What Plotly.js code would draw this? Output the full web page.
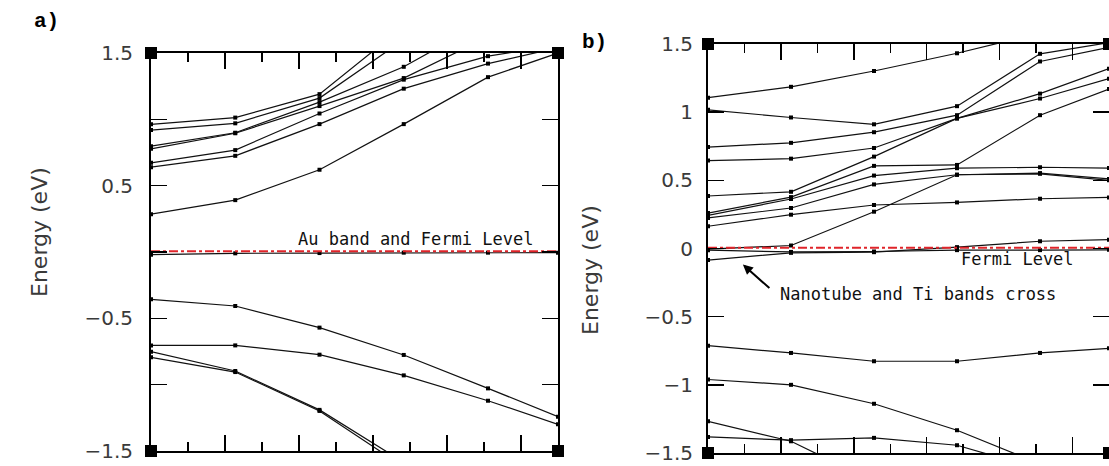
<!DOCTYPE html>
<html>
<head>
<meta charset="utf-8">
<script src="https://cdn.plot.ly/plotly-3.0.1.min.js"></script>
<style>
html,body{margin:0;padding:0;background:#fff;}
#chart{width:1109px;height:466px;}
</style>
</head>
<body>
<div id="chart"></div>
<script>
// k-point positions along the path (fraction of the zone)
const kPoints = [0, 0.207, 0.414, 0.621, 0.828, 1.0];

// Panel a) bands (eV)
const aBand1 = [0.285, 0.391, 0.62, 0.964, 1.318, 1.50];
const aBand2 = [0.639, 0.725, 0.964, 1.231, 1.42, 1.54];
const aBand3 = [0.672, 0.768, 1.044, 1.299, 1.476, 1.56];
const aBand4 = [0.778, 0.895, 1.10, 1.311, 1.62];
const aBand5 = [0.798, 0.899, 1.13, 1.396, 1.75];
const aBand6 = [0.919, 0.970, 1.16, 1.60];
const aBand7 = [0.962, 1.013, 1.19, 1.70];
const aAuBand = [-0.02, -0.01, -0.008, -0.005, -0.005, -0.005];
const aVal1 = [-0.357, -0.407, -0.570, -0.776, -1.028, -1.241];
const aVal2 = [-0.704, -0.704, -0.774, -0.930, -1.121, -1.299];
const aVal3 = [-0.751, -0.897, -1.19, -1.585];
const aVal4 = [-0.794, -0.905, -1.198, -1.62];

// Panel b) bands (eV)
const bBand1 = [1.106, 1.186, 1.302, 1.432, 1.58];
const bBand2 = [1.017, 0.961, 0.911, 1.044, 1.428, 1.51];
const bBand3 = [0.744, 0.775, 0.853, 0.978, 1.372, 1.475];
const bBand4 = [0.645, 0.659, 0.737, 0.954, 1.136, 1.319];
const bBand5 = [0.385, 0.416, 0.674, 0.954, 1.10, 1.246];
const bBand6 = [0.26, 0.377, 0.606, 0.613, 0.978, 1.17];
const bBand7 = [0.243, 0.363, 0.535, 0.589, 0.596, 0.59];
const bBand8 = [0.224, 0.297, 0.470, 0.541, 0.553, 0.51];
const bBand9 = [0.163, 0.248, 0.319, 0.338, 0.365, 0.375];
const bBand10 = [-0.005, 0.022, 0.270, 0.541, 0.548, 0.50];
const bTiBand = [-0.012, -0.025, -0.022, -0.012, -0.012, -0.01];
const bTubeBand = [-0.085, -0.032, -0.027, 0.01, 0.053, 0.065];
const bVal1 = [-0.713, -0.766, -0.827, -0.827, -0.766, -0.732];
const bVal2 = [-0.961, -1.0, -1.139, -1.333, -1.58];
const bVal3 = [-1.268, -1.414, -1.71];
const bVal4 = [-1.382, -1.406, -1.389, -1.443, -1.62];

// Fermi level and frame corners
const fermiX = [0, 1];
const fermiY = [0.005, 0.005];
const cornerX = [0, 1, 0, 1];
const cornerY = [1.5, 1.5, -1.5, -1.5];

// y tick labels
const aTickVals = [-1.5, -1, -0.5, 0, 0.5, 1, 1.5];
const aTickText = ['\u22121.5', '', '\u22120.5', '', '0.5', '', '1.5'];
const bTickVals = [-1.5, -1, -0.5, 0, 0.5, 1, 1.5];
const bTickText = ['\u22121.5', '\u22121', '\u22120.5', '0', '0.5', '1', '1.5'];

const aBands = [aBand1, aBand2, aBand3, aBand4, aBand5, aBand6, aBand7, aAuBand, aVal1, aVal2, aVal3, aVal4];
const bBands = [bBand1, bBand2, bBand3, bBand4, bBand5, bBand6, bBand7, bBand8, bBand9, bBand10, bTiBand, bTubeBand, bVal1, bVal2, bVal3, bVal4];

const traces = [];
function bandTrace(vals, xa, ya) {
  return {
    x: kPoints.slice(0, vals.length), y: vals, xaxis: xa, yaxis: ya,
    type: 'scatter', mode: 'lines+markers',
    line: {color: '#111', width: 1.2},
    marker: {symbol: 'square', size: 4, color: '#000'},
    hoverinfo: 'skip', showlegend: false
  };
}
aBands.forEach(v => traces.push(bandTrace(v, 'x', 'y')));
bBands.forEach(v => traces.push(bandTrace(v, 'x2', 'y2')));

[['x', 'y'], ['x2', 'y2']].forEach(([xa, ya]) => {
  traces.push({x: fermiX, y: fermiY, xaxis: xa, yaxis: ya, type: 'scatter', mode: 'lines',
    line: {color: '#e0242a', width: 2, dash: 'dashdot'}, hoverinfo: 'skip', showlegend: false});
  traces.push({x: cornerX, y: cornerY, xaxis: xa, yaxis: ya, type: 'scatter', mode: 'markers',
    cliponaxis: false, marker: {symbol: 'square', size: 12, color: '#000'},
    hoverinfo: 'skip', showlegend: false});
});

const W = 1109, H = 466;
const majorK = [2, 4, 6, 8, 10].map(i => i / 11);
const minorK = [1, 3, 5, 7, 9].map(i => i / 11);
const tickFont = {family: 'DejaVu Sans, sans-serif', size: 20, color: '#3a3a3a'};

function xAxis(d0, d1, anchor) {
  return {
    domain: [d0, d1], range: [0, 1], anchor: anchor,
    showline: true, linecolor: '#000', linewidth: 2, mirror: 'ticks',
    ticks: 'inside', ticklen: 16, tickwidth: 1.5, tickcolor: '#000',
    tickmode: 'array', tickvals: majorK, showticklabels: false,
    minor: {tickmode: 'array', tickvals: minorK, ticks: 'inside', ticklen: 9, tickwidth: 1.5, tickcolor: '#000', showgrid: false},
    showgrid: false, zeroline: false, fixedrange: true
  };
}
function yAxis(d0, d1, anchor, vals, text, standoff) {
  return {
    domain: [d0, d1], range: [-1.5, 1.5], anchor: anchor,
    showline: true, linecolor: '#000', linewidth: 2, mirror: 'ticks',
    ticks: 'inside', ticklen: 16, tickwidth: 1.5, tickcolor: '#000',
    tickmode: 'array', tickvals: vals, ticktext: text, tickfont: tickFont,
    ticklabelstandoff: standoff, ticklabeloverflow: 'allow',
    showgrid: false, zeroline: false, fixedrange: true
  };
}

const annFont = {family: 'DejaVu Sans Mono, monospace', size: 17, color: '#111'};
const titleFont = {family: 'DejaVu Sans, sans-serif', size: 22, color: '#3a3a3a'};
const panelFont = {family: 'Liberation Mono, monospace', size: 21, color: '#000'};
const layout = {
  width: W, height: H,
  margin: {l: 0, r: 0, t: 0, b: 0},
  paper_bgcolor: '#fff', plot_bgcolor: '#fff',
  showlegend: false,
  xaxis: xAxis(151 / W, 558 / W, 'y'),
  yaxis: yAxis((H - 451) / H, (H - 53) / H, 'x', aTickVals, aTickText, 12),
  xaxis2: xAxis(708 / W, 1, 'y2'),
  yaxis2: yAxis((H - 453) / H, (H - 44) / H, 'x2', bTickVals, bTickText, 9),
  annotations: [
    {text: '<b>a)</b>', xref: 'paper', yref: 'paper', x: 32 / W, y: (H - 22) / H, xanchor: 'left', yanchor: 'middle', showarrow: false,
      font: panelFont},
    {text: '<b>b)</b>', xref: 'paper', yref: 'paper', x: 580 / W, y: (H - 43) / H, xanchor: 'left', yanchor: 'middle', showarrow: false,
      font: panelFont},
    {text: 'Energy (eV)', xref: 'paper', yref: 'paper', x: 40 / W, y: (H - 232) / H, textangle: -90, showarrow: false,
      xanchor: 'center', yanchor: 'middle', font: titleFont},
    {text: 'Energy (eV)', xref: 'paper', yref: 'paper', x: 590 / W, y: (H - 270) / H, textangle: -90, showarrow: false,
      xanchor: 'center', yanchor: 'middle', font: titleFont},
    {text: 'Au band and Fermi Level', xref: 'x', yref: 'y', x: 0.943, y: 0.10, xanchor: 'right', yanchor: 'middle',
      showarrow: false, font: annFont},
    {text: 'Fermi Level', xref: 'x2', yref: 'y2', x: 0.918, y: -0.08, xanchor: 'right', yanchor: 'middle',
      showarrow: false, font: annFont},
    {text: 'Nanotube and Ti bands cross', xref: 'x2', yref: 'y2', x: 0.175, y: -0.335, xanchor: 'left', yanchor: 'middle',
      showarrow: false, font: annFont},
    {text: '', xref: 'x2', yref: 'y2', x: 0.087, y: -0.117, ax: 28, ay: 25, showarrow: true,
      arrowhead: 2, arrowsize: 1, arrowwidth: 2, arrowcolor: '#000'}
  ]
};

Plotly.newPlot('chart', traces, layout, {staticPlot: true, displayModeBar: false});
</script>
</body>
</html>
